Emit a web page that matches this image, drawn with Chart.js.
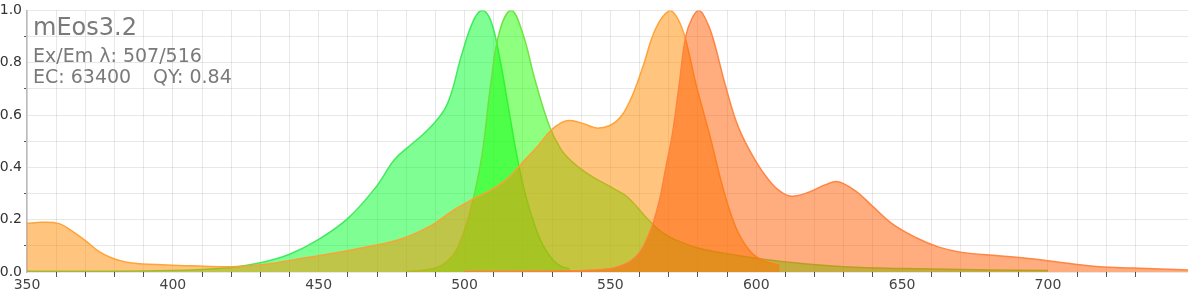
<!DOCTYPE html>
<html>
<head>
<meta charset="utf-8">
<script src="https://cdn.jsdelivr.net/npm/chart.js@4/dist/chart.umd.min.js"></script>
<style>
  html, body { margin: 0; padding: 0; background: #fff; }
  #wrap { position: relative; width: 1188px; height: 290px; }
  .lbl { position: absolute; font-family: "DejaVu Sans", sans-serif; color: #7a7a7a; line-height: 1; white-space: pre; }
</style>
</head>
<body>
<div id="wrap">
  <canvas id="c" width="1188" height="290"></canvas>
  <div class="lbl" style="left:33px; top:14.7px; font-size:24px;">mEos3.2</div>
  <div class="lbl" style="left:33px; top:46.2px; font-size:19px;">Ex/Em λ: 507/516</div>
  <div class="lbl" style="left:33px; top:67.2px; font-size:19px;">EC: 63400</div>
  <div class="lbl" style="left:153px; top:67.2px; font-size:19px;">QY: 0.84</div>
</div>
<script>
// ---- data ----
const greenExNm  = [350, 380, 400, 410, 420, 430, 440, 450, 460, 470, 476, 482, 488, 494, 499, 503, 506, 509, 512, 515, 518, 521, 524, 527, 530, 533, 536];
const greenExVal = [0.003, 0.003, 0.006, 0.010, 0.017, 0.035, 0.068, 0.125, 0.205, 0.33, 0.43, 0.49, 0.55, 0.64, 0.83, 0.96, 1.0, 0.96, 0.82, 0.63, 0.44, 0.29, 0.18, 0.10, 0.05, 0.022, 0.012];

const greenEmNm  = [480, 485, 490, 494, 497, 500, 503, 506, 509, 512, 516, 520, 524, 529, 533, 537, 541, 546, 551, 556, 563, 568, 574, 580, 590, 603, 615, 630, 650, 680, 700];
const greenEmVal = [0.002, 0.006, 0.015, 0.04, 0.08, 0.16, 0.28, 0.45, 0.72, 0.92, 1.0, 0.91, 0.74, 0.56, 0.47, 0.42, 0.385, 0.35, 0.32, 0.285, 0.2, 0.15, 0.115, 0.092, 0.07, 0.048, 0.033, 0.02, 0.013, 0.008, 0.006];

const redExNm  = [350, 355, 361, 365, 370, 375, 380, 386, 398, 409, 420, 432, 443, 455, 466, 478, 489, 496, 504, 510, 515, 520, 525, 530, 535, 540, 546, 552, 556.5, 561, 565.5, 570.4, 573, 575.5, 579.5, 584, 588.6, 593, 597.6, 602, 608];
const redExVal = [0.185, 0.19, 0.185, 0.16, 0.12, 0.076, 0.05, 0.034, 0.027, 0.023, 0.02, 0.03, 0.05, 0.072, 0.095, 0.125, 0.18, 0.235, 0.285, 0.32, 0.36, 0.42, 0.48, 0.545, 0.578, 0.57, 0.55, 0.576, 0.65, 0.78, 0.93, 1.0, 0.97, 0.90, 0.71, 0.525, 0.32, 0.17, 0.083, 0.045, 0.025];

const redEmNm  = [500, 530, 545, 552, 558.7, 563.3, 566.7, 569, 571.2, 573.5, 575.8, 578, 580.3, 582.5, 585, 589.5, 594, 599.8, 604.4, 608, 612, 618, 624, 628, 634, 640, 646.5, 655, 662.6, 670, 683, 692.5, 700, 706, 717.5, 729, 748];
const redEmVal = [0.002, 0.004, 0.008, 0.018, 0.058, 0.147, 0.27, 0.40, 0.525, 0.71, 0.90, 0.97, 1.0, 0.97, 0.90, 0.71, 0.55, 0.424, 0.35, 0.31, 0.29, 0.305, 0.335, 0.345, 0.31, 0.25, 0.185, 0.13, 0.095, 0.076, 0.062, 0.053, 0.043, 0.034, 0.02, 0.015, 0.008];

const xMin = 350, xMax = 748, xStep = 10, xLabelEvery = 50;
const yMin = 0, yMax = 1, yStep = 0.1;
// ---------------------------------------------

function pts(xs, ys) { return xs.map((x, i) => ({ x: x, y: ys[i] })); }

function ds(xs, ys, fill, border) {
  return {
    data: pts(xs, ys),
    backgroundColor: fill,
    borderColor: border,
    borderWidth: 1.5,
    pointRadius: 0,
    fill: 'origin',
    tension: 0.4
  };
}

const tickFont = { family: '"DejaVu Sans", sans-serif', size: 14 };

new Chart(document.getElementById('c'), {
  type: 'line',
  data: {
    datasets: [
      ds(redEmNm, redEmVal, 'rgba(255,90,0,0.5)', 'rgba(255,130,60,0.95)'),
      ds(redExNm, redExVal, 'rgba(255,140,0,0.5)', 'rgba(255,160,50,0.95)'),
      ds(greenEmNm, greenEmVal, 'rgba(30,255,0,0.5)', 'rgba(110,225,60,0.95)'),
      ds(greenExNm, greenExVal, 'rgba(0,255,40,0.5)', 'rgba(60,232,90,0.95)')
    ]
  },
  options: {
    responsive: false,
    animation: false,
    devicePixelRatio: 1,
    layout: { padding: { top: 8, left: 0, right: 0, bottom: 0 } },
    plugins: { legend: { display: false }, tooltip: { enabled: false } },
    scales: {
      x: {
        type: 'linear',
        min: xMin, max: xMax,
        afterBuildTicks: (s) => { s.ticks = s.ticks.filter(t => Math.abs(t.value % xStep) < 1e-6); },
        afterFit: (s) => { s.height = 18; },
        ticks: {
          stepSize: xStep,
          autoSkip: false,
          maxRotation: 0,
          padding: 0,
          color: '#444',
          font: tickFont,
          callback: (v) => (v % xLabelEvery === 0 ? String(v) : '')
        },
        grid: {
          color: 'rgba(0,0,0,0.09)',
          tickLength: 5,
          tickColor: (ctx) => (ctx.tick && ctx.tick.value % xLabelEvery === 0 ? 'rgba(0,0,0,0)' : '#555')
        },
        border: { display: false }
      },
      y: {
        min: yMin, max: yMax,
        afterFit: (s) => { s.width = 27; },
        ticks: {
          stepSize: yStep,
          padding: 2,
          color: '#333',
          font: tickFont,
          callback: (v) => (Math.round(v * 10) % 2 === 0 ? v.toFixed(1) : '')
        },
        grid: {
          color: 'rgba(0,0,0,0.09)',
          tickLength: 3,
          tickColor: (ctx) => (ctx.tick && Math.round(ctx.tick.value * 10) % 2 === 0 ? 'rgba(0,0,0,0)' : '#555')
        },
        border: { display: true, color: '#bbb', width: 1.5 }
      }
    }
  }
});
</script>
</body>
</html>
